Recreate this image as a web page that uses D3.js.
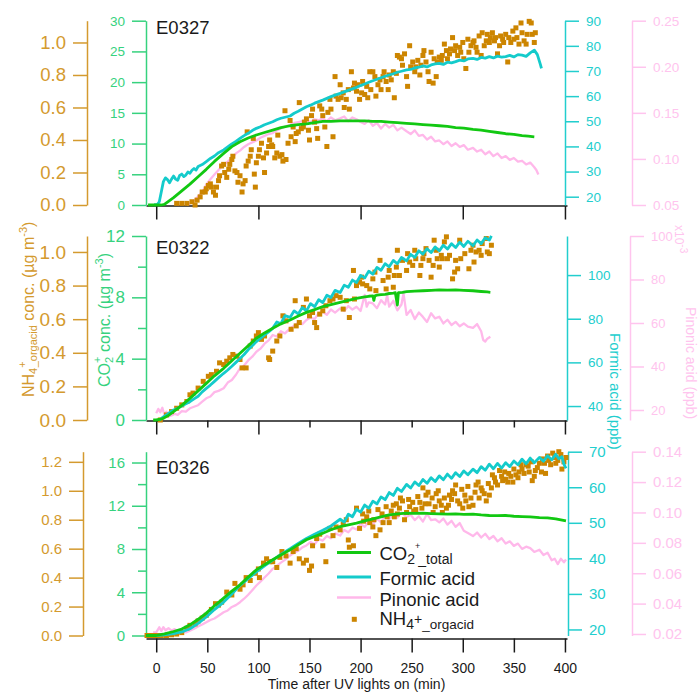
<!DOCTYPE html>
<html>
<head>
<meta charset="utf-8">
<script src="https://cdn.jsdelivr.net/npm/d3@7"></script>
<style>
  body { margin: 0; background: #fff; }
  svg { display: block; font-family: "Liberation Sans", Arial, sans-serif; }
</style>
</head>
<body>
<svg id="chart" width="699" height="692"></svg>
<script>
// ---------- experiments ----------
const experiments = ["E0327", "E0322", "E0326"];

// ---------- x ticks (min after UV lights on) ----------
const xMajorTicks = [0, 100, 200, 300, 400];
const xMinorTicks = [50, 150, 250, 350];
const xLabelTicks = [0, 50, 100, 150, 200, 250, 300, 350, 400];

// ---------- E0327 ----------
const co2_E0327 = [[-8,0],[0,0],[5,0],[8,0.1],[12,0.6],[17,1.2],[25,2.3],[33,3.4],[41,4.6],[49,5.8],[57,7.1],[66,8.4],[74,9.5],[82,10.3],[90,10.9],[98,11.4],[106,11.8],[114,12.2],[122,12.6],[131,12.9],[139,13.1],[147,13.2],[155,13.4],[163,13.6],[171,13.6],[180,13.7],[188,13.7],[196,13.7],[204,13.7],[212,13.6],[220,13.6],[228,13.5],[236,13.4],[245,13.3],[253,13.2],[261,13.1],[269,13.0],[277,12.9],[285,12.8],[293,12.6],[301,12.5],[310,12.3],[318,12.2],[326,12.0],[334,11.8],[342,11.6],[350,11.5],[358,11.3],[364,11.2],[370,11.1]];
const formic_E0327 = [[-2,16.8],[1,16.9],[3,18],[5,22],[7,26],[9,27.5],[11,26.8],[13,25.5],[15,27],[17,28.2],[19,27],[21,26.5],[23,28.5],[25,29],[27,28],[29,28.6],[31,29.8],[33,29.3],[35,30.5],[37,31.2],[39,30.6],[41,32],[45,32.8],[49,34],[53,35.2],[57,36.2],[61,37.5],[66,38.6],[70,39.8],[74,41],[78,42],[82,43.2],[86,44.3],[90,45.2],[94,46.3],[98,47.2],[102,47.8],[106,48.6],[110,49.2],[114,49.8],[118,50.6],[122,51.2],[126,51.6],[131,52.1],[135,53.2],[139,54],[143,54.9],[147,55.8],[151,56.4],[155,57.2],[159,57.8],[163,58.4],[167,59.1],[171,59.8],[175,60.4],[180,61.1],[184,61.7],[188,62.3],[192,62.9],[196,63.5],[200,64.2],[204,64.8],[208,65.5],[212,66.1],[216,66.7],[220,67.3],[224,67.9],[228,68.4],[232,68.9],[236,69.5],[240,69.9],[245,70.4],[249,70.6],[253,71.2],[257,71.5],[261,72.0],[265,71.6],[269,72.4],[273,72.8],[277,73.0],[281,72.6],[285,73.5],[289,73.2],[293,73.7],[297,74.3],[301,74.0],[305,74.8],[310,75.0],[314,74.6],[318,75.4],[322,75.1],[326,75.7],[330,75.2],[334,75.9],[338,75.5],[342,75.7],[346,76.2],[350,75.6],[354,76.5],[358,76.3],[362,75.8],[366,77.2],[370,78.3],[373,76.5],[376,72.5],[377,71.0]];
const pinonic_E0327 = [[30,0.05],[35,0.053],[40,0.058],[45,0.064],[49,0.072],[53,0.078],[57,0.083],[61,0.088],[66,0.094],[70,0.097],[74,0.101],[78,0.106],[82,0.109],[86,0.113],[90,0.116],[94,0.118],[98,0.12],[102,0.123],[106,0.125],[110,0.127],[114,0.128],[118,0.131],[122,0.133],[126,0.135],[131,0.137],[135,0.139],[139,0.14],[143,0.141],[147,0.142],[151,0.14],[155,0.143],[159,0.142],[163,0.144],[167,0.141],[171,0.145],[175,0.142],[180,0.144],[184,0.146],[188,0.141],[192,0.145],[196,0.143],[200,0.14],[204,0.138],[208,0.142],[212,0.136],[216,0.139],[220,0.133],[224,0.138],[228,0.134],[232,0.137],[236,0.131],[240,0.134],[245,0.13],[249,0.127],[253,0.131],[257,0.125],[261,0.126],[265,0.121],[269,0.124],[273,0.119],[277,0.12],[281,0.116],[285,0.119],[289,0.114],[293,0.117],[297,0.113],[301,0.115],[305,0.11],[310,0.112],[314,0.108],[318,0.11],[322,0.105],[326,0.108],[330,0.103],[334,0.106],[338,0.101],[342,0.103],[346,0.099],[350,0.101],[354,0.097],[358,0.098],[362,0.094],[366,0.096],[370,0.091],[372,0.088],[374,0.083]];
const nh4_E0327 = [[20,0.01],[25,0.01],[30,0.01],[35,0.02],[38,0.00],[40,0.03],[43,0.05],[45,0.08],[48,0.08],[49,0.10],[51,0.12],[53,0.13],[54,0.11],[56,0.08],[58,0.06],[59,0.11],[61,0.15],[62,0.18],[64,0.24],[66,0.25],[67,0.20],[69,0.17],[71,0.22],[72,0.25],[74,0.28],[75,0.30],[77,0.21],[79,0.20],[80,0.14],[82,0.18],[84,0.08],[85,0.13],[87,0.15],[88,0.24],[89,0.45],[90,0.27],[92,0.30],[93,0.34],[95,0.41],[97,0.11],[96,0.19],[98,0.26],[100,0.30],[101,0.34],[103,0.38],[105,0.29],[106,0.20],[108,0.32],[110,0.36],[111,0.40],[113,0.37],[114,0.36],[116,0.29],[118,0.32],[119,0.43],[121,0.30],[123,0.31],[124,0.27],[126,0.58],[127,0.28],[129,0.38],[131,0.52],[132,0.42],[134,0.48],[136,0.39],[137,0.44],[139,0.45],[140,0.63],[142,0.47],[144,0.48],[145,0.51],[147,0.53],[149,0.46],[150,0.40],[152,0.55],[153,0.59],[155,0.51],[157,0.47],[158,0.41],[160,0.61],[162,0.59],[163,0.55],[165,0.48],[167,0.36],[168,0.57],[170,0.65],[171,0.59],[173,0.42],[175,0.79],[176,0.67],[178,0.65],[180,0.74],[181,0.66],[183,0.69],[184,0.60],[186,0.65],[188,0.71],[189,0.59],[191,0.82],[193,0.72],[194,0.75],[196,0.70],[197,0.74],[199,0.65],[201,0.69],[202,0.76],[204,0.68],[206,0.73],[207,0.66],[209,0.82],[210,0.71],[212,0.82],[214,0.79],[215,0.67],[217,0.74],[219,0.77],[220,0.71],[222,0.79],[223,0.82],[225,0.76],[227,0.71],[228,0.80],[230,0.77],[232,0.82],[233,0.66],[235,0.81],[236,0.92],[238,0.91],[240,0.90],[241,0.86],[243,0.93],[245,0.79],[246,0.73],[248,0.98],[249,0.85],[251,0.88],[253,0.82],[254,0.85],[256,0.89],[258,0.80],[259,0.86],[261,0.92],[262,0.95],[264,0.88],[266,0.82],[267,0.76],[269,0.94],[271,0.75],[272,0.90],[274,0.79],[275,0.88],[277,0.91],[279,0.89],[280,0.92],[282,0.99],[284,0.95],[285,0.90],[287,0.93],[288,0.96],[290,1.03],[292,0.95],[293,0.98],[295,0.92],[297,0.97],[298,0.94],[300,1.00],[301,0.90],[303,0.84],[305,1.02],[306,0.94],[308,0.98],[310,1.00],[311,1.01],[313,0.97],[314,0.94],[316,1.04],[318,0.92],[319,1.06],[321,0.98],[323,1.01],[324,1.05],[326,1.00],[327,1.03],[329,1.06],[331,1.01],[332,1.03],[334,0.93],[336,0.98],[337,1.04],[339,1.02],[340,1.00],[342,1.05],[344,0.88],[345,1.03],[347,1.00],[349,1.07],[350,1.02],[352,1.09],[353,1.03],[355,0.99],[357,1.12],[358,1.06],[360,1.01],[362,0.99],[363,1.05],[365,1.13],[367,1.12],[368,1.05],[370,1.00],[371,1.06]];
const nh4Ticks_E0327 = [0, 0.2, 0.4, 0.6, 0.8, 1.0];
const co2Ticks_E0327 = [0, 5, 10, 15, 20, 25, 30];
const formicTicks_E0327 = [20, 30, 40, 50, 60, 70, 80, 90];
const pinTicks_E0327 = [0.05, 0.10, 0.15, 0.20, 0.25];

// ---------- E0322 ----------
const co2_E0322 = [[-3,0],[0,0],[4,0.05],[7,0.11],[12,0.3],[17,0.54],[25,0.95],[33,1.41],[41,1.9],[49,2.39],[57,2.88],[66,3.37],[74,3.86],[82,4.35],[90,4.84],[98,5.33],[106,5.68],[114,5.98],[122,6.27],[131,6.52],[139,6.78],[147,7.02],[155,7.2],[163,7.39],[171,7.53],[180,7.67],[188,7.8],[196,7.93],[200,7.98],[204,8.03],[208,8.07],[212,8.1],[213,7.8],[214,8.1],[216,8.14],[220,8.17],[224,8.2],[228,8.25],[232,8.28],[234,8.3],[236,7.5],[237,8.3],[241,8.33],[245,8.37],[253,8.4],[261,8.43],[269,8.46],[277,8.48],[285,8.47],[293,8.49],[301,8.46],[310,8.43],[318,8.38],[324,8.35],[327,8.33]];
const formic_E0322 = [[3,33.6],[7,35],[10,35.9],[13,37],[17,38.2],[21,39],[25,40],[29,41],[33,42],[37,43.3],[41,44.5],[45,46.5],[49,48.1],[53,49.6],[57,51.3],[61,53],[66,55],[70,56.5],[74,58.2],[78,60],[82,61.8],[86,63.6],[90,65.8],[94,67.6],[98,69.5],[102,71],[106,72.6],[110,74],[114,75.6],[118,78.5],[122,77.7],[126,81.4],[131,80.6],[135,83.6],[139,82.2],[143,85.1],[147,83.6],[151,86.9],[155,85.5],[159,88.7],[163,87.4],[167,90.8],[171,89.7],[175,93],[180,92],[184,95.4],[188,94.4],[192,97.7],[196,96.6],[200,99.8],[204,98.7],[208,101.8],[212,100.4],[216,103.5],[220,102.2],[224,105.2],[228,103.8],[232,106.7],[236,105.2],[240,108.1],[245,106.5],[249,109.5],[253,108.1],[257,111.1],[261,109.6],[265,112.1],[269,110.3],[273,112.9],[277,111.1],[281,113.7],[285,111.9],[289,114.4],[293,112.6],[297,115.1],[301,113.1],[305,115.5],[310,113.4],[314,116.1],[318,114.4],[322,117.1],[326,116],[328,118]];
const pinonic_E0322 = [[0,0.0185],[2,0.0205],[4,0.019],[6,0.021],[8,0.0178],[10,0.0192],[12,0.017],[15,0.0175],[18,0.0182],[21,0.0178],[25,0.0195],[29,0.0192],[33,0.0208],[37,0.0215],[41,0.0222],[45,0.0238],[49,0.0254],[53,0.0262],[57,0.0282],[61,0.0288],[66,0.03],[70,0.0326],[74,0.0338],[78,0.0362],[82,0.0392],[86,0.0405],[90,0.0428],[94,0.0445],[98,0.0468],[102,0.0482],[106,0.0505],[110,0.052],[114,0.0545],[118,0.0538],[122,0.0562],[126,0.0552],[131,0.0575],[135,0.0588],[139,0.0602],[143,0.0595],[147,0.0614],[151,0.0625],[155,0.0618],[159,0.0645],[163,0.0652],[167,0.0638],[171,0.0662],[175,0.0648],[180,0.0667],[184,0.0655],[188,0.0678],[192,0.0662],[196,0.0675],[200,0.0655],[204,0.0729],[206,0.0675],[208,0.0695],[212,0.069],[216,0.0668],[220,0.0705],[224,0.0685],[226,0.0728],[228,0.0675],[232,0.0702],[236,0.0658],[240,0.0685],[242,0.0736],[245,0.0637],[249,0.066],[253,0.0618],[257,0.0648],[261,0.0628],[265,0.0605],[269,0.0645],[273,0.0621],[277,0.0629],[281,0.0598],[285,0.0615],[289,0.0591],[293,0.0605],[297,0.0585],[301,0.0598],[305,0.0583],[310,0.0578],[314,0.0595],[318,0.0562],[320,0.0522],[322,0.0515],[324,0.0528],[327,0.0537]];
const nh4_E0322 = [[4,0.00],[10,0.03],[15,0.05],[20,0.07],[25,0.09],[30,0.11],[33,0.15],[36,0.16],[41,0.19],[46,0.23],[51,0.26],[54,0.27],[59,0.29],[62,0.34],[66,0.33],[69,0.35],[72,0.37],[75,0.39],[79,0.38],[82,0.36],[84,0.31],[88,0.31],[92,0.44],[95,0.47],[98,0.50],[100,0.52],[103,0.48],[106,0.50],[110,0.37],[111,0.36],[114,0.41],[118,0.47],[121,0.50],[124,0.62],[127,0.59],[132,0.54],[136,0.71],[137,0.56],[140,0.58],[144,0.67],[147,0.72],[150,0.62],[153,0.64],[155,0.58],[157,0.55],[160,0.63],[163,0.65],[166,0.68],[170,0.71],[173,0.72],[176,0.74],[180,0.73],[183,0.66],[186,0.71],[189,0.61],[193,0.89],[194,0.72],[196,0.80],[199,0.82],[201,0.85],[202,0.81],[206,0.80],[209,0.78],[212,0.84],[214,0.88],[215,0.77],[219,0.95],[222,0.83],[225,0.78],[227,0.85],[228,0.89],[232,0.79],[233,0.86],[235,0.91],[236,1.01],[238,0.86],[241,0.95],[245,0.89],[246,0.99],[248,0.94],[251,0.92],[253,1.01],[254,0.96],[258,0.86],[259,0.92],[261,0.96],[262,0.99],[264,1.02],[267,0.95],[269,0.85],[271,0.92],[272,1.07],[274,1.01],[275,0.96],[277,0.91],[279,0.98],[280,0.96],[282,1.06],[284,1.09],[285,0.96],[287,0.98],[290,0.84],[292,0.88],[293,0.95],[295,0.90],[297,1.07],[298,0.96],[302,0.99],[306,0.90],[308,1.01],[310,1.04],[311,0.94],[313,1.00],[316,1.01],[318,0.98],[319,1.05],[323,1.08],[324,1.00],[326,0.99],[328,1.04]];
const nh4Ticks_E0322 = [0, 0.2, 0.4, 0.6, 0.8, 1.0];
const co2Ticks_E0322 = [0, 4, 8, 12];
const co2MinorTicks_E0322 = [2, 6, 10];
const formicTicks_E0322 = [40, 60, 80, 100];
const pinTicks_E0322 = [0.02, 0.04, 0.06, 0.08, 0.10];

// ---------- E0326 ----------
const co2_E0326 = [[-10,0],[0,0],[8,0.15],[17,0.37],[25,0.6],[33,0.99],[41,1.5],[49,2.07],[57,2.75],[66,3.45],[74,4.1],[82,4.69],[90,5.4],[98,6.07],[106,6.55],[114,7.0],[122,7.45],[131,7.92],[139,8.4],[147,8.85],[155,9.15],[163,9.46],[171,9.78],[180,10.08],[188,10.24],[196,10.39],[204,10.6],[212,10.79],[220,10.97],[228,11.16],[236,11.25],[245,11.31],[253,11.3],[261,11.31],[269,11.28],[277,11.25],[285,11.22],[293,11.24],[301,11.2],[310,11.22],[318,11.15],[326,11.1],[334,11.08],[342,11.1],[350,11.03],[358,11.0],[366,10.98],[375,10.91],[383,10.88],[391,10.79],[396,10.7],[401,10.6]];
const formic_E0326 = [[0,18.3],[8,18.5],[17,18.8],[25,19.3],[33,20.2],[41,21.7],[49,23.5],[57,25.6],[66,27.7],[74,30],[82,32.4],[90,34.3],[98,36.2],[106,37.9],[114,39.5],[122,41.1],[131,42.7],[139,44.2],[147,45.6],[155,46.8],[163,47.9],[171,49.1],[180,51.0],[184,50.2],[188,52.4],[192,51.7],[196,53.8],[200,53.0],[204,55.0],[208,54.1],[212,56.1],[216,55.3],[220,57.3],[224,56.5],[228,58.5],[232,57.7],[236,59.7],[240,58.8],[245,60.8],[249,59.8],[253,61.5],[257,60.5],[261,62.2],[265,61.1],[269,62.7],[273,61.6],[277,63.2],[281,62.1],[285,63.7],[289,62.5],[293,64.1],[297,63.0],[301,64.6],[305,63.5],[310,65.1],[314,64.1],[318,65.8],[322,64.8],[326,66.5],[330,65.2],[334,66.7],[338,65.4],[342,66.9],[346,65.8],[350,67.4],[354,66.3],[358,67.9],[362,66.6],[366,68.2],[370,66.9],[375,68.4],[379,67.3],[383,68.9],[387,67.7],[391,69.3],[394,68.0],[397,68.6],[399,66.5],[401,65.3]];
const pinonic_E0326 = [[-3,0.021],[0,0.0211],[3,0.0244],[5,0.022],[7,0.0245],[9,0.0225],[12,0.0238],[15,0.0222],[18,0.0232],[21,0.0218],[25,0.0226],[29,0.021],[33,0.0222],[37,0.0235],[41,0.025],[45,0.0262],[49,0.0277],[53,0.0292],[57,0.0302],[61,0.032],[66,0.0343],[70,0.0355],[74,0.0378],[78,0.039],[82,0.0409],[86,0.0432],[90,0.0458],[94,0.0488],[98,0.0519],[102,0.0545],[106,0.0572],[110,0.0598],[114,0.0629],[118,0.0648],[122,0.067],[126,0.0688],[131,0.0717],[135,0.0735],[139,0.0748],[143,0.077],[147,0.0783],[151,0.0805],[155,0.079],[159,0.0825],[163,0.0815],[167,0.0845],[171,0.083],[175,0.0862],[180,0.0848],[184,0.0885],[188,0.087],[192,0.09],[196,0.0888],[200,0.0925],[204,0.0905],[208,0.094],[212,0.092],[216,0.096],[220,0.0935],[224,0.0975],[228,0.0955],[232,0.099],[236,0.0965],[240,0.1],[245,0.097],[249,0.0985],[253,0.095],[257,0.0975],[261,0.094],[265,0.099],[269,0.095],[273,0.0955],[277,0.0935],[281,0.096],[285,0.092],[289,0.0945],[293,0.0905],[297,0.093],[301,0.088],[305,0.0865],[310,0.0845],[314,0.0868],[318,0.0835],[322,0.086],[326,0.0825],[330,0.0845],[334,0.081],[338,0.083],[342,0.0795],[346,0.081],[350,0.078],[354,0.0795],[358,0.076],[362,0.0775],[366,0.0765],[370,0.074],[375,0.0755],[379,0.072],[383,0.0735],[387,0.0685],[390,0.0695],[393,0.066],[396,0.0695],[399,0.0672],[401,0.069]];
const nh4_E0326 = [[-9,0],[-6,0],[-3,0],[0,0],[2,0],[5,0],[10,0],[15,0.005],[20,0.01],[25,0.02],[30,0.05],[33,0.07],[38,0.08],[41,0.10],[45,0.12],[49,0.14],[54,0.18],[58,0.22],[61,0.21],[64,0.23],[69,0.30],[74,0.28],[77,0.36],[82,0.32],[85,0.35],[88,0.40],[92,0.38],[97,0.43],[100,0.46],[101,0.40],[105,0.50],[108,0.53],[111,0.51],[114,0.51],[118,0.47],[121,0.54],[123,0.58],[127,0.55],[131,0.50],[134,0.58],[137,0.60],[140,0.53],[144,0.50],[147,0.52],[150,0.45],[152,0.48],[153,0.62],[157,0.67],[160,0.70],[163,0.62],[166,0.51],[170,0.74],[173,0.69],[176,0.75],[180,0.73],[183,0.77],[186,0.80],[188,0.66],[189,0.61],[193,0.62],[196,0.88],[199,0.74],[202,0.84],[203,0.79],[206,0.82],[208,0.86],[209,0.78],[212,0.75],[213,0.80],[215,0.69],[217,0.87],[219,0.73],[221,0.84],[222,0.78],[225,0.89],[226,0.82],[228,0.78],[230,0.86],[232,0.90],[233,0.82],[235,0.91],[236,0.84],[238,0.88],[239,0.95],[241,0.93],[243,0.80],[245,0.85],[247,0.94],[248,0.89],[251,0.92],[252,0.86],[254,0.87],[256,0.96],[258,0.92],[260,0.88],[261,1.02],[263,0.91],[264,0.97],[266,0.99],[267,0.91],[270,0.95],[271,0.85],[273,0.89],[274,0.98],[276,1.00],[277,0.93],[279,0.90],[280,0.85],[282,0.95],[284,0.88],[286,0.90],[287,0.97],[289,0.94],[290,1.00],[292,0.98],[293,1.04],[295,0.93],[297,0.91],[299,1.01],[300,0.88],[302,0.97],[303,0.93],[305,1.03],[306,0.89],[308,0.95],[310,0.90],[312,0.99],[313,1.04],[315,1.06],[316,0.95],[318,1.02],[319,1.00],[321,0.98],[323,0.93],[325,1.05],[326,0.97],[328,1.02],[329,1.11],[331,1.09],[332,1.06],[334,1.04],[336,1.14],[338,1.10],[339,1.07],[341,1.13],[342,1.08],[344,1.06],[345,1.12],[347,1.10],[349,1.06],[350,1.15],[352,1.11],[354,1.09],[355,1.13],[357,1.18],[358,1.15],[360,1.12],[362,1.18],[364,1.17],[365,1.13],[367,1.20],[368,1.07],[370,1.10],[371,1.14],[373,1.16],[375,1.19],[377,1.13],[378,1.22],[380,1.19],[381,1.12],[383,1.24],[384,1.21],[386,1.18],[388,1.26],[390,1.23],[391,1.19],[393,1.21],[394,1.27],[396,1.25],[397,1.15],[399,1.20],[401,1.23]];
const nh4Ticks_E0326 = [0, 0.2, 0.4, 0.6, 0.8, 1.0, 1.2];
const co2Ticks_E0326 = [0, 4, 8, 12, 16];
const co2MinorTicks_E0326 = [2, 6, 10, 14];
const formicTicks_E0326 = [20, 30, 40, 50, 60, 70];
const pinTicks_E0326 = [0.02, 0.04, 0.06, 0.08, 0.10, 0.12, 0.14];

// ---------- styling ----------
const COL = {
  nh4: "#cc8500", nh4Axis: "#d49a2e",
  co2: "#12c812", co2Axis: "#36d27e",
  formic: "#14cbcb", formicAxis: "#22cece",
  pin: "#ffb8ea", pinAxis: "#ffc4ee",
  ink: "#1a1a1a"
};
const FONT = "'Liberation Sans', Arial, sans-serif";

const svg = d3.select("#chart");
svg.append("rect").attr("width", 699).attr("height", 692).attr("fill", "#fff");

const x = d3.scaleLinear().domain([-10, 402]).range([146, 567]);

const panels = [
  { name: experiments[0], y0: 205, y1: 20.7, xAxisY: 205.5, labelY: 33.5,
    co2: co2_E0327, formic: formic_E0327, pin: pinonic_E0327, nh4: nh4_E0327,
    nh4Dom: [0, 1.134], co2Dom: [0, 30], formicDom: [16.7, 90], pinDom: [0.05, 0.25],
    nh4Ticks: nh4Ticks_E0327, co2Ticks: co2Ticks_E0327, co2Minor: [],
    formicTicks: formicTicks_E0327, pinTicks: pinTicks_E0327,
    nh4X: 87, formicX: 565, pinX: 632,
    fs: { nh4: 18.5, co2: 13.5, formic: 13.5, pin: 13.5 },
    pinFmt: d3.format(".2f"), xMode: "top" },
  { name: experiments[1], y0: 420, y1: 236, xAxisY: 420.5, labelY: 254,
    co2: co2_E0322, formic: formic_E0322, pin: pinonic_E0322, nh4: nh4_E0322,
    nh4Dom: [0, 1.095], co2Dom: [0, 12], formicDom: [33.6, 117.9], pinDom: [0.0154, 0.1],
    nh4Ticks: nh4Ticks_E0322, co2Ticks: co2Ticks_E0322, co2Minor: co2MinorTicks_E0322,
    formicTicks: formicTicks_E0322, pinTicks: pinTicks_E0322,
    nh4X: 87, formicX: 567, pinX: 630,
    fs: { nh4: 19, co2: 17, formic: 13.5, pin: 13 },
    pinFmt: d => String(Math.round(d * 1000)), xMode: "middle" },
  { name: experiments[2], y0: 635.5, y1: 451.7, xAxisY: 638.5, labelY: 474,
    co2: co2_E0326, formic: formic_E0326, pin: pinonic_E0326, nh4: nh4_E0326,
    nh4Dom: [0, 1.27], co2Dom: [0, 17], formicDom: [18.3, 70], pinDom: [0.019, 0.14],
    nh4Ticks: nh4Ticks_E0326, co2Ticks: co2Ticks_E0326, co2Minor: co2MinorTicks_E0326,
    formicTicks: formicTicks_E0326, pinTicks: pinTicks_E0326,
    nh4X: 83, formicX: 568, pinX: 632,
    fs: { nh4: 15, co2: 15, formic: 15, pin: 15 },
    pinFmt: d3.format(".2f"), xMode: "bottom" }
];

function styleAxis(g, color, fontSize) {
  g.attr("font-family", FONT).attr("font-size", fontSize);
  g.select(".domain").attr("stroke", color).attr("stroke-width", 1.5);
  g.selectAll(".tick line").attr("stroke", color).attr("stroke-width", 1.5);
  g.selectAll(".tick text").attr("fill", color);
}

function drawPanel(p) {
  const g = svg.append("g");
  const yN = d3.scaleLinear().domain(p.nh4Dom).range([p.y0, p.y1]);
  const yC = d3.scaleLinear().domain(p.co2Dom).range([p.y0, p.y1]);
  const yF = d3.scaleLinear().domain(p.formicDom).range([p.y0, p.y1]);
  const yP = d3.scaleLinear().domain(p.pinDom).range([p.y0, p.y1]);

  // x axis
  const xa = g.append("g").attr("transform", `translate(0,${p.xAxisY})`);
  if (p.xMode === "bottom") {
    xa.call(d3.axisBottom(x).tickValues(xLabelTicks).tickSize(14).tickPadding(11).tickSizeOuter(0));
    styleAxis(xa, COL.ink, 14);
  } else {
    xa.call(d3.axisBottom(x).tickValues(xMajorTicks).tickFormat("").tickSize(14).tickSizeOuter(0));
    styleAxis(xa, COL.ink, 14);
    if (p.xMode === "middle") {
      const xm = g.append("g").attr("transform", `translate(0,${p.xAxisY})`)
        .call(d3.axisBottom(x).tickValues(xMinorTicks).tickFormat("").tickSize(7).tickSizeOuter(0));
      xm.select(".domain").remove();
      xm.selectAll(".tick line").attr("stroke", COL.ink).attr("stroke-width", 1.5);
    }
  }

  // left axes
  const an = g.append("g").attr("transform", `translate(${p.nh4X},0)`)
    .call(d3.axisLeft(yN).tickValues(p.nh4Ticks).tickFormat(d3.format(".1f")).tickSize(14).tickPadding(7).tickSizeOuter(0));
  styleAxis(an, COL.nh4Axis, p.fs.nh4);

  const ac = g.append("g").attr("transform", `translate(146,0)`)
    .call(d3.axisLeft(yC).tickValues(p.co2Ticks).tickFormat(d3.format("d")).tickSize(14).tickPadding(7).tickSizeOuter(0));
  styleAxis(ac, COL.co2Axis, p.fs.co2);
  if (p.co2Minor.length) {
    const acm = g.append("g").attr("transform", `translate(146,0)`)
      .call(d3.axisLeft(yC).tickValues(p.co2Minor).tickFormat("").tickSize(8).tickSizeOuter(0));
    acm.select(".domain").remove();
    acm.selectAll(".tick line").attr("stroke", COL.co2Axis).attr("stroke-width", 1.5);
  }

  // right axes
  const af = g.append("g").attr("transform", `translate(${p.formicX},0)`)
    .call(d3.axisRight(yF).tickValues(p.formicTicks).tickFormat(d3.format("d")).tickSize(14).tickPadding(7).tickSizeOuter(0));
  styleAxis(af, COL.formicAxis, p.fs.formic);

  const ap = g.append("g").attr("transform", `translate(${p.pinX},0)`)
    .call(d3.axisRight(yP).tickValues(p.pinTicks).tickFormat(p.pinFmt).tickSize(14).tickPadding(7).tickSizeOuter(0));
  styleAxis(ap, COL.pinAxis, p.fs.pin);

  // traces
  const lineOf = ys => d3.line().x(d => x(d[0])).y(d => ys(d[1]));
  g.append("path").datum(p.pin).attr("d", lineOf(yP))
    .attr("fill", "none").attr("stroke", COL.pin).attr("stroke-width", 2.3).attr("stroke-linejoin", "round");
  g.append("g").selectAll("rect").data(p.nh4).join("rect")
    .attr("x", d => x(d[0]) - 2.5).attr("y", d => yN(d[1]) - 2.5)
    .attr("width", 5).attr("height", 5).attr("fill", COL.nh4);
  g.append("path").datum(p.formic).attr("d", lineOf(yF))
    .attr("fill", "none").attr("stroke", COL.formic).attr("stroke-width", 2.8).attr("stroke-linejoin", "round");
  g.append("path").datum(p.co2).attr("d", lineOf(yC))
    .attr("fill", "none").attr("stroke", COL.co2).attr("stroke-width", 2.8).attr("stroke-linejoin", "round");

  // experiment label
  g.append("text").attr("x", 156).attr("y", p.labelY)
    .attr("font-family", FONT).attr("font-size", 18.5).attr("fill", COL.ink).text(p.name);
}

panels.forEach(drawPanel);

// ---------- axis titles ----------
function rich(sel, parts) {
  parts.forEach(pt => {
    const t = sel.append("tspan").text(pt.t).attr("font-size", pt.fs);
    if (pt.dy) t.attr("dy", pt.dy);
    if (pt.dx) t.attr("dx", pt.dx);
  });
}

const tN = svg.append("text").attr("transform", "translate(33.5,397) rotate(-90)")
  .attr("font-family", FONT).attr("fill", COL.nh4Axis);
rich(tN, [
  { t: "NH", fs: 16 }, { t: "4", fs: 11, dy: 3 }, { t: "+", fs: 11, dy: -11 },
  { t: "_orgacid", fs: 11, dy: 11, dx: -6 }, { t: " conc. (µg m", fs: 16, dy: -3 },
  { t: "-3", fs: 11, dy: -7 }, { t: ")", fs: 16, dy: 7 }
]);

const tC = svg.append("text").attr("transform", "translate(110,387) rotate(-90)")
  .attr("font-family", FONT).attr("fill", COL.co2Axis);
rich(tC, [
  { t: "CO", fs: 16 }, { t: "2", fs: 11, dy: 3 }, { t: "+", fs: 11, dy: -12, dx: -6 },
  { t: " conc. (µg m", fs: 16, dy: 9 }, { t: "-3", fs: 11, dy: -7 }, { t: ")", fs: 16, dy: 7 }
]);

svg.append("text").attr("transform", "translate(610,333) rotate(90)")
  .attr("font-family", FONT).attr("font-size", 15).attr("fill", COL.formicAxis)
  .text("Formic acid (ppb)");

svg.append("text").attr("transform", "translate(686,307) rotate(90)")
  .attr("font-family", FONT).attr("font-size", 14).attr("fill", COL.pinAxis)
  .text("Pinonic acid (ppb)");

const tScale = svg.append("text").attr("transform", "translate(675,225) rotate(90)")
  .attr("font-family", FONT).attr("fill", COL.pinAxis);
rich(tScale, [{ t: "x10", fs: 12 }, { t: "-3", fs: 10, dy: -5 }]);

svg.append("text").attr("x", 356.5).attr("y", 688.5).attr("text-anchor", "middle")
  .attr("font-family", FONT).attr("font-size", 14).attr("fill", COL.ink)
  .text("Time after UV lights on (min)");

// ---------- legend ----------
const legend = svg.append("g").attr("font-family", FONT).attr("fill", COL.ink);
const legendItems = [
  { key: "co2", y: 552.5, base: 559.5 },
  { key: "formic", y: 577, base: 584.5 },
  { key: "pin", y: 597.5, base: 605.5 },
  { key: "nh4", y: 619.3, base: 624.5 }
];
legendItems.forEach(it => {
  if (it.key === "nh4") {
    legend.append("rect").attr("x", 354.3 - 2.5).attr("y", it.y - 2.5).attr("width", 5).attr("height", 5).attr("fill", COL.nh4);
  } else {
    legend.append("line").attr("x1", 337).attr("x2", 371).attr("y1", it.y).attr("y2", it.y)
      .attr("stroke", COL[it.key]).attr("stroke-width", it.key === "pin" ? 2.3 : 2.8);
  }
  const t = legend.append("text").attr("x", 379.5).attr("y", it.base).attr("font-size", 18.5);
  if (it.key === "co2") {
    rich(t, [{ t: "CO", fs: 18.5 }, { t: "2", fs: 14, dy: 4 }, { t: "+", fs: 9, dy: -15 },
             { t: "_total", fs: 14, dy: 15, dx: -2 }]);
  } else if (it.key === "formic") {
    t.text("Formic acid");
  } else if (it.key === "pin") {
    t.text("Pinonic acid");
  } else {
    rich(t, [{ t: "NH", fs: 18.5 }, { t: "4", fs: 14, dy: 4 }, { t: "+", fs: 14, dy: -5 },
             { t: "_orgacid", fs: 13.5, dy: 5, dx: 0 }]);
  }
});
</script>
</body>
</html>
